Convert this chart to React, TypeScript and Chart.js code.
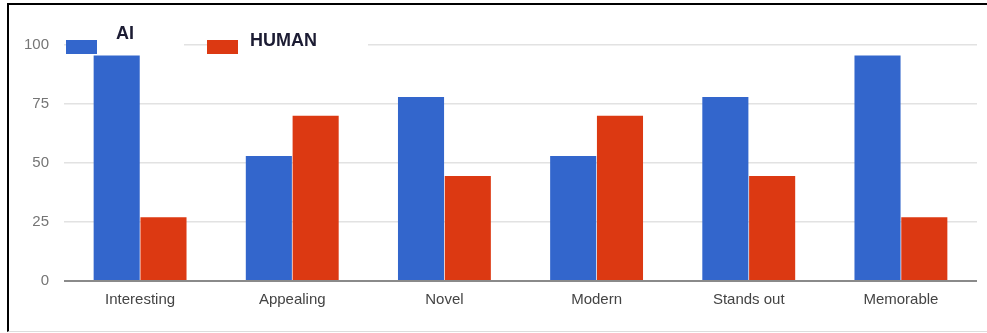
import React, { useEffect, useRef } from "react";
import { Chart, registerables } from "chart.js";

Chart.register(...registerables);

const categories = ["Interesting", "Appealing", "Novel", "Modern", "Stands out", "Memorable"];
const aiValues = [95.5, 53, 78, 53, 78, 95.5];
const humanValues = [27, 70, 44.5, 70, 44.5, 27];
const yTicks = [0, 25, 50, 75, 100];
const seriesNames = ["AI", "HUMAN"];
const seriesColors = ["#3366CC", "#DC3912"];

const legendPlugin = {
  id: "customLegend",
  beforeDatasetsDraw(chart: any) {
    const ctx = chart.ctx;
    const a = chart.chartArea;
    ctx.save();
    // white backgrounds behind legend items
    ctx.fillStyle = "#ffffff";
    ctx.fillRect(a.left + 32, a.top - 20, 88, 30);
    ctx.fillRect(a.left + 174, a.top - 20, 130, 30);
    // boxes
    ctx.fillStyle = seriesColors[0];
    ctx.fillRect(a.left + 2, a.top - 5, 31, 14);
    ctx.fillStyle = seriesColors[1];
    ctx.fillRect(a.left + 143, a.top - 5, 31, 14);
    // texts
    ctx.fillStyle = "#1c1c33";
    ctx.font = "bold 18px 'Liberation Sans', Arial, sans-serif";
    ctx.textBaseline = "middle";
    ctx.textAlign = "left";
    ctx.fillText(seriesNames[0], a.left + 52, a.top - 11);
    ctx.fillText(seriesNames[1], a.left + 186, a.top - 4);
    ctx.restore();
  },
};

export default function App() {
  const canvasRef = useRef<HTMLCanvasElement | null>(null);

  useEffect(() => {
    if (!canvasRef.current) return;
    const chart = new Chart(canvasRef.current, {
      type: "bar",
      data: {
        labels: categories,
        datasets: [
          {
            label: seriesNames[0],
            data: aiValues,
            backgroundColor: seriesColors[0],
            borderColor: "#6f95e0",
            borderWidth: 0,
            categoryPercentage: 0.615,
            barPercentage: 0.985,
          },
          {
            label: seriesNames[1],
            data: humanValues,
            backgroundColor: seriesColors[1],
            borderWidth: 0,
            categoryPercentage: 0.615,
            barPercentage: 0.985,
          },
        ],
      },
      options: {
        animation: false,
        responsive: false,
        maintainAspectRatio: false,
        layout: { padding: { top: 45, right: 10, left: 0, bottom: 0 } },
        plugins: {
          legend: { display: false },
          tooltip: { enabled: false },
        },
        scales: {
          x: {
            grid: { display: false, drawTicks: false },
            border: { display: false },
            ticks: {
              color: "#444",
              font: { family: "'Liberation Sans', Arial, sans-serif", size: 15 },
              padding: 10,
            },
            afterFit: (s: any) => {
              s.height = 52;
            },
          },
          y: {
            min: 0,
            max: 100,
            afterBuildTicks: (s: any) => {
              s.ticks = yTicks.map((v) => ({ value: v }));
            },
            grid: {
              drawTicks: false,
              color: (c: any) => (c.tick && c.tick.value === 0 ? "#8a8a8a" : "#e2e2e2"),
              lineWidth: (c: any) => (c.tick && c.tick.value === 0 ? 2 : 1.5),
            },
            border: { display: false },
            ticks: {
              color: "#757575",
              font: { family: "'Liberation Sans', Arial, sans-serif", size: 15 },
              padding: 15,
            },
            afterFit: (s: any) => {
              s.width = 64;
            },
          },
        },
      },
      plugins: [legendPlugin],
    });
    return () => chart.destroy();
  }, []);

  return (
    <div style={{ position: "fixed", left: 0, top: 0, width: 987, height: 333, background: "#fff" }}>
      <canvas ref={canvasRef} width={987} height={333} style={{ display: "block", width: 987, height: 333 }} />
      <div
        style={{
          position: "absolute",
          left: 7,
          top: 3,
          width: 980,
          height: 329,
          boxSizing: "border-box",
          borderTop: "2px solid #000",
          borderLeft: "2px solid #000",
          borderBottom: "1px solid #ddd",
          pointerEvents: "none",
        }}
      />
    </div>
  );
}
